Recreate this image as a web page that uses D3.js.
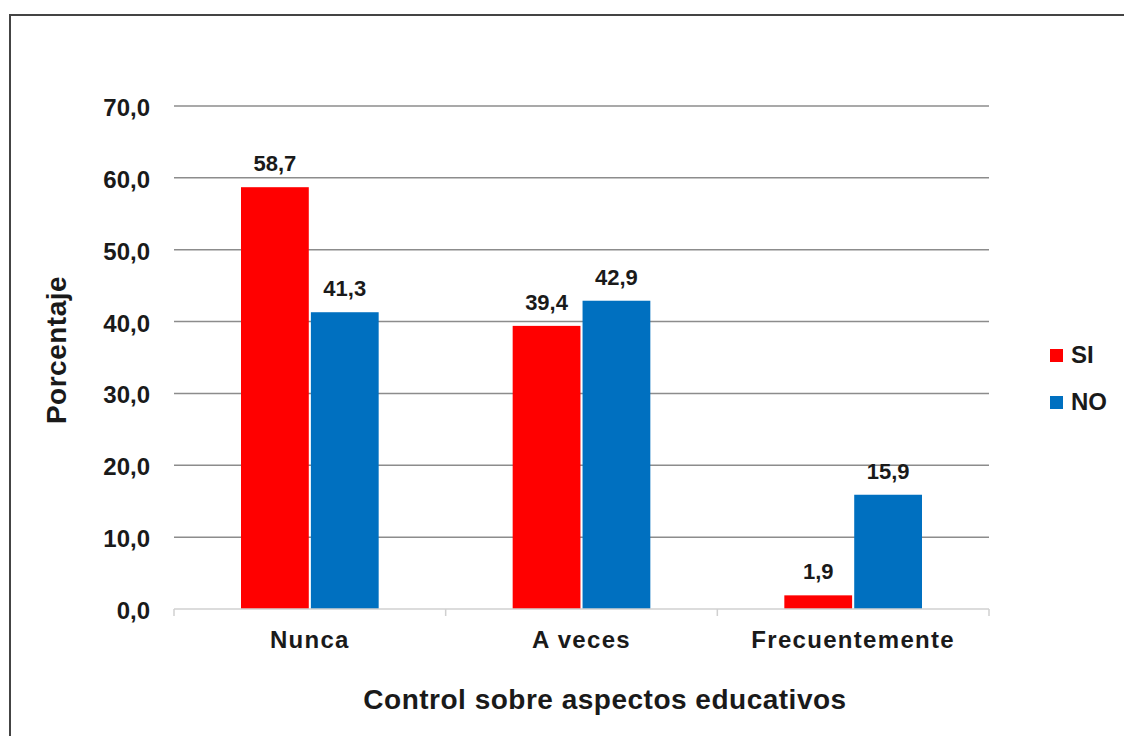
<!DOCTYPE html>
<html>
<head>
<meta charset="utf-8">
<script src="https://cdn.jsdelivr.net/npm/d3@7"></script>
<style>
  body { margin: 0; background: #fff; }
  text { font-family: "Liberation Sans", Arial, sans-serif; font-weight: bold; fill: #1a1a1a; }
</style>
</head>
<body>
<div id="chart"></div>
<script>
/* chart data */
var categories = ["Nunca", "A veces", "Frecuentemente"]
var seriesNames = ["SI", "NO"]
var siValues = [58.7, 39.4, 1.9]
var noValues = [41.3, 42.9, 15.9]
var yTicks = [0, 10, 20, 30, 40, 50, 60, 70]

var seriesColors = {
  "SI": "#FF0000",
  "NO": "#0070C0"
}

var width = 1124
    height = 736
    plot = { left: 174, right: 989, top: 106, bottom: 609 }

var rows = categories.map(function(c, i) {
  return { cat: c, SI: siValues[i], NO: noValues[i] }
})

var fmt = function(v) { return d3.format(".1f")(v).replace(".", ",") }

var svg = d3.select("#chart")
  .append("svg")
  .attr("width", width)
  .attr("height", height)

/* outer frame */
svg.append("rect")
  .attr("x", 10)
  .attr("y", 15)
  .attr("width", width)
  .attr("height", height)
  .attr("fill", "none")
  .attr("stroke", "#444")
  .attr("stroke-width", 2)

var x0 = d3.scaleBand()
  .domain(categories)
  .range([plot.left, plot.right])
  .padding(0)

var x1 = d3.scaleBand()
  .domain(seriesNames)
  .range([67, x0.bandwidth() - 67])
  .paddingInner(0.03)

var y = d3.scaleLinear()
  .domain([0, 70])
  .range([plot.bottom, plot.top])

/* gridlines */
svg.append("g")
  .selectAll("line")
  .data(yTicks.filter(function(d) { return d > 0 }))
  .enter()
  .append("line")
  .attr("x1", plot.left)
  .attr("x2", plot.right)
  .attr("y1", function(d) { return y(d) })
  .attr("y2", function(d) { return y(d) })
  .attr("stroke", "#8c8c8c")
  .attr("stroke-width", 1.5)

/* y tick labels */
svg.append("g")
  .selectAll("text")
  .data(yTicks)
  .enter()
  .append("text")
  .attr("x", 150)
  .attr("y", function(d) { return y(d) + 10 })
  .attr("text-anchor", "end")
  .style("font-size", "24px")
  .text(fmt)

/* bars */
var groups = svg.append("g")
  .selectAll("g")
  .data(rows)
  .enter()
  .append("g")
  .attr("transform", function(d) { return "translate(" + x0(d.cat) + ",0)" })

groups.selectAll("rect")
  .data(function(d) { return seriesNames.map(function(s) { return { s: s, v: d[s] } }) })
  .enter()
  .append("rect")
  .attr("x", function(d) { return x1(d.s) })
  .attr("y", function(d) { return y(d.v) })
  .attr("width", x1.bandwidth())
  .attr("height", function(d) { return y(0) - y(d.v) })
  .attr("fill", function(d) { return seriesColors[d.s] })

groups.selectAll(".lbl")
  .data(function(d) { return seriesNames.map(function(s) { return { s: s, v: d[s] } }) })
  .enter()
  .append("text")
  .attr("class", "lbl")
  .attr("x", function(d) { return x1(d.s) + x1.bandwidth() / 2 })
  .attr("y", function(d) { return y(d.v) - 16 })
  .attr("text-anchor", "middle")
  .style("font-size", "22px")
  .text(function(d) { return fmt(d.v) })

/* x axis */
svg.append("line")
  .attr("x1", plot.left)
  .attr("x2", plot.right)
  .attr("y1", plot.bottom)
  .attr("y2", plot.bottom)
  .attr("stroke", "#d0d0d0")
  .attr("stroke-width", 1.5)

var tickXs = categories.map(function(c) { return x0(c) }).concat([plot.right])
svg.append("g")
  .selectAll("line")
  .data(tickXs)
  .enter()
  .append("line")
  .attr("x1", function(d) { return d })
  .attr("x2", function(d) { return d })
  .attr("y1", plot.bottom)
  .attr("y2", plot.bottom + 7)
  .attr("stroke", "#d0d0d0")
  .attr("stroke-width", 1.5)

svg.append("g")
  .selectAll("text")
  .data(categories)
  .enter()
  .append("text")
  .attr("x", function(d) { return x0(d) + x0.bandwidth() / 2 })
  .attr("y", 648)
  .attr("text-anchor", "middle")
  .style("font-size", "24px")
  .style("letter-spacing", "1.3px")
  .text(function(d) { return d })

/* axis titles */
svg.append("text")
  .attr("x", 605)
  .attr("y", 709)
  .attr("text-anchor", "middle")
  .style("font-size", "28px")
  .style("letter-spacing", "0.5px")
  .text("Control sobre aspectos educativos")

svg.append("text")
  .attr("transform", "translate(66,350) rotate(-90)")
  .attr("text-anchor", "middle")
  .style("font-size", "28px")
  .style("letter-spacing", "0.5px")
  .text("Porcentaje")

/* legend */
var legend = svg.append("g")
  .selectAll("g")
  .data(seriesNames)
  .enter()
  .append("g")
  .attr("transform", function(d, i) { return "translate(1050," + (349 + i * 47) + ")" })

legend.append("rect")
  .attr("width", 13)
  .attr("height", 13)
  .attr("fill", function(d) { return seriesColors[d] })

legend.append("text")
  .attr("x", 21)
  .attr("y", 14)
  .style("font-size", "24px")
  .text(function(d) { return d })
</script>
</body>
</html>
